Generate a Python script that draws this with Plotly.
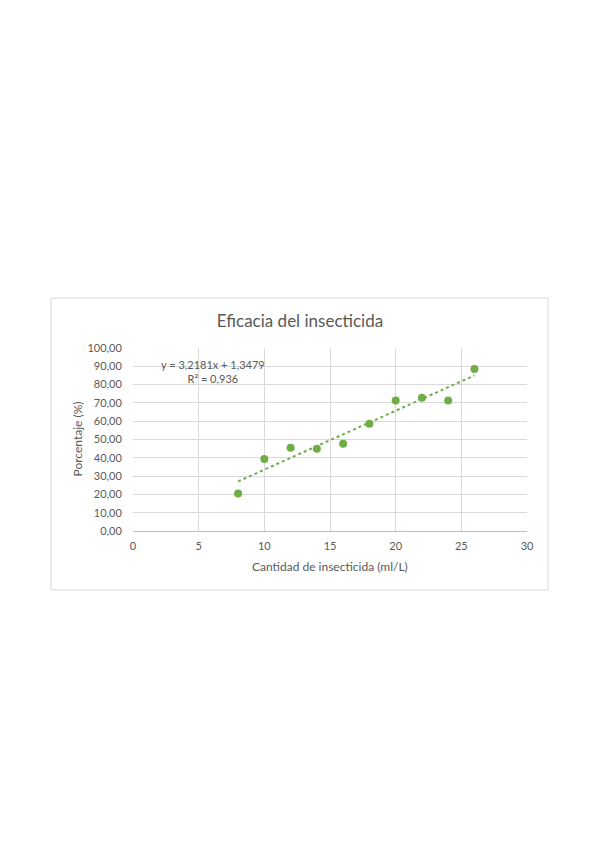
import numpy as np
import plotly.graph_objects as go

# Data
cantidad = [8, 10, 12, 14, 16, 18, 20, 22, 24, 26]
porcentaje = [20.5, 39.3, 45.5, 45.0, 47.7, 58.6, 71.3, 72.8, 71.3, 88.5]
x_ticks = [0, 5, 10, 15, 20, 25, 30]
y_ticks = [0, 10, 20, 30, 40, 50, 60, 70, 80, 90, 100]
title_text = "Eficacia del insecticida"
x_title = "Cantidad de insecticida (ml/L)"
y_title = "Porcentaje (%)"
eq_text = "y = 3,2181x + 1,3479<br>R² = 0,936"

GREEN = "#70AD47"
GRAY = "#595959"
GRID = "#D9D9D9"
FONT = "Lato, 'Open Sans', sans-serif"

slope, intercept = np.polyfit(cantidad, porcentaje, 1)
trend_x = [min(cantidad), max(cantidad)]
trend_y = [slope * v + intercept for v in trend_x]

fig = go.Figure()
fig.add_trace(go.Scatter(x=trend_x, y=trend_y, mode="lines",
                         line=dict(color=GREEN, width=2, dash="dot"),
                         hoverinfo="skip", showlegend=False))
fig.add_trace(go.Scatter(x=cantidad, y=porcentaje, mode="markers",
                         marker=dict(color=GREEN, size=8),
                         showlegend=False))

# page body has an 8px default margin; work in page pixels, offset by 8
OFF = 8
W, H = 599 - OFF, 848 - OFF
L = 133 - OFF
T = 348 - OFF
R = W - (527 - OFF)
B = H - (531 - OFF)
pw, ph = W - L - R, H - T - B

def px_to_paper_x(px):
    return (px - OFF - L) / pw

def px_to_paper_y(py):
    return (H - B - (py - OFF)) / ph

fig.update_layout(
    width=W, height=H,
    margin=dict(l=L, r=R, t=T, b=B),
    paper_bgcolor="white", plot_bgcolor="white",
    separators=",.",
    font=dict(family=FONT, color=GRAY, size=11),
    title=dict(text=title_text, x=(300 - OFF) / W, xanchor="center", xref="container",
               y=1 - (321 - OFF) / H, yanchor="middle", yref="container",
               font=dict(size=17, color=GRAY, family=FONT)),
    xaxis=dict(range=[0, 30], tickvals=x_ticks, showgrid=True, gridcolor=GRID,
               gridwidth=1, zeroline=False, showline=True, linecolor="#BFBFBF",
               ticks="outside", ticklen=5, tickcolor="rgba(0,0,0,0)",
               tickfont=dict(size=11, color=GRAY), mirror=False),
    yaxis=dict(range=[0, 100], tickvals=y_ticks, tickformat=".2f", showgrid=True,
               gridcolor=GRID, gridwidth=1, zeroline=False, showline=False,
               ticks="outside", ticklen=8, tickcolor="rgba(0,0,0,0)",
               tickfont=dict(size=11, color=GRAY)),
    shapes=[dict(type="rect", xref="paper", yref="paper",
                 x0=px_to_paper_x(51), x1=px_to_paper_x(548),
                 y0=px_to_paper_y(590), y1=px_to_paper_y(298),
                 line=dict(color="#D9D9D9", width=1), fillcolor="rgba(0,0,0,0)",
                 layer="below")],
    annotations=[
        dict(text=x_title, xref="paper", yref="paper", x=0.5, y=px_to_paper_y(566),
             xanchor="center", yanchor="middle", showarrow=False,
             font=dict(size=12, color=GRAY)),
        dict(text=y_title, xref="paper", yref="paper", x=px_to_paper_x(77), y=0.5,
             xanchor="center", yanchor="middle", showarrow=False, textangle=-90,
             font=dict(size=12, color=GRAY)),
        dict(text=eq_text, xref="paper", yref="paper", x=px_to_paper_x(213),
             y=px_to_paper_y(371), xanchor="center", yanchor="middle",
             showarrow=False, align="center", font=dict(size=11, color=GRAY)),
    ],
)

fig.write_html("out.html")
